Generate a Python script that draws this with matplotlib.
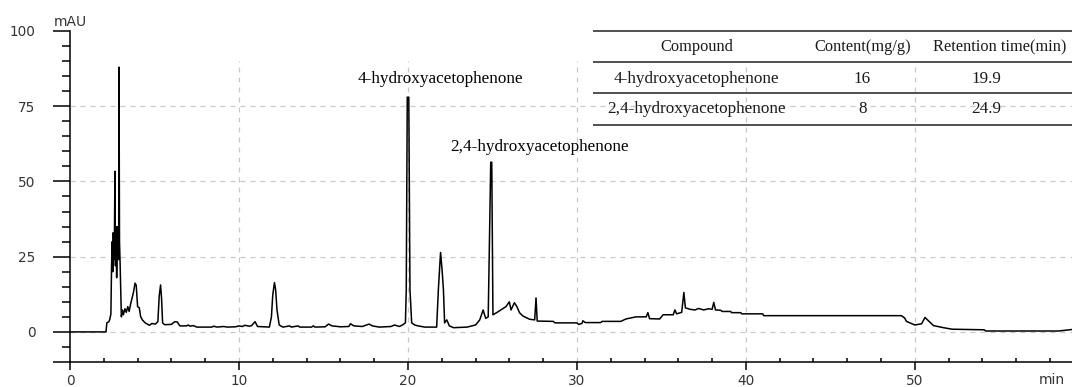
import matplotlib
matplotlib.use("Agg")
import matplotlib.pyplot as plt
from matplotlib.ticker import FixedLocator, MultipleLocator

# -----------------------------
# DATA
# -----------------------------
time_min = [
    0, 2.13, 2.18, 2.3, 2.36, 2.42, 2.46, 2.5, 2.53, 2.56, 2.6, 2.63, 2.66, 2.69,
    2.72, 2.76, 2.8, 2.84, 2.88, 2.9, 2.93, 2.96, 3.04, 3.1, 3.16, 3.25, 3.33,
    3.42, 3.5, 3.6, 3.75, 3.85, 3.92, 4.0, 4.1, 4.18, 4.28, 4.45, 4.7, 4.85,
    5.05, 5.2, 5.28, 5.36, 5.42, 5.48, 5.6, 6.0, 6.2, 6.35, 6.5, 6.9, 7.0, 7.1,
    7.3, 7.5, 8.4, 8.5, 8.7, 9.1, 9.3, 9.8, 10.0, 10.2, 10.35, 10.6, 10.75,
    10.95, 11.1, 11.8, 11.92, 12.0, 12.1, 12.17, 12.25, 12.38, 12.6, 13.0, 13.1,
    13.5, 13.6, 14.3, 14.4, 14.5, 15.1, 15.3, 15.5, 16.0, 16.5, 16.6, 16.8,
    17.3, 17.7, 17.9, 18.3, 19.0, 19.2, 19.5, 19.7, 19.85, 19.9, 19.96, 20.05,
    20.12, 20.22, 20.4, 20.6, 21.0, 21.7, 21.8, 21.93, 22.02, 22.1, 22.17, 22.3,
    22.45, 22.7, 23.5, 24.0, 24.25, 24.45, 24.6, 24.75, 24.82, 24.9, 24.96,
    25.03, 25.25, 25.5, 25.8, 26.0, 26.1, 26.3, 26.45, 26.6, 26.8, 27.2, 27.5,
    27.58, 27.65, 28.6, 28.7, 30.0, 30.1, 30.3, 30.35, 30.5, 31.4, 31.5, 32.6,
    32.9, 33.5, 34.1, 34.2, 34.3, 34.9, 35.1, 35.7, 35.8, 35.9, 36.2, 36.33,
    36.42, 36.7, 37.0, 37.2, 37.5, 37.8, 38.0, 38.1, 38.2, 38.5, 38.6, 39.1,
    39.15, 39.7, 39.75, 41.0, 41.05, 48.8, 49.2, 49.4, 49.5, 50.0, 50.4, 50.6,
    51.1, 51.7, 52.2, 54.1, 54.2, 58.5, 59.0, 59.3,
]
signal_mau = [
    0, 0, 3.0, 3.4, 4.3, 6.0, 22, 30, 20, 33, 24, 32, 53.4, 22,
    35, 18, 30, 35, 24, 88, 30, 24, 5, 7.3, 5.7, 7.7, 6.5,
    8.4, 6.8, 9.6, 13, 16.2, 15.5, 8.4, 8.0, 5.1, 4.0, 3.0, 2.2, 2.8,
    2.6, 3.4, 12, 15.6, 11, 3.0, 2.4, 2.5, 3.4, 3.3, 2.0, 2.0, 2.3, 1.9,
    2.1, 1.6, 1.6, 1.9, 1.6, 1.8, 1.6, 1.7, 2.0, 1.8, 2.2, 1.9, 2.1,
    3.4, 1.8, 1.6, 5, 12.3, 16.4, 14, 7.3, 2.3, 1.6, 2.0, 1.6,
    2.0, 1.6, 1.6, 2.0, 1.6, 1.7, 2.6, 2.0, 1.7, 1.8, 2.7, 2.0,
    1.8, 2.6, 2.0, 1.6, 1.8, 2.3, 1.8, 2.4, 3, 14, 78, 78,
    14, 3, 2.3, 2.0, 1.6, 1.6, 14, 26.4, 20.6, 14, 3, 4.0,
    2.0, 1.4, 1.6, 2.3, 4.0, 7.3, 4.5, 5, 28, 56.4, 56.4,
    5.7, 6.4, 7.3, 8.4, 10, 7.3, 9.7, 8.4, 6.4, 5.3, 4.2, 4.0,
    11.3, 3.6, 3.5, 3.0, 3.0, 2.5, 2.8, 3.7, 3.1, 3.1, 3.5, 3.5,
    4.3, 5.0, 5.0, 6.4, 4.4, 4.3, 5.7, 5.7, 7.3, 6.0, 6.5, 13.1,
    8, 7.5, 7.3, 7.8, 7.3, 7.7, 7.5, 9.8, 7.3, 7.2, 6.8, 6.8,
    6.4, 6.4, 6.0, 6.0, 5.4, 5.4, 5.4, 4.6, 3.5, 2.3, 2.7, 4.8,
    2.1, 1.4, 0.9, 0.7, 0.3, 0.3, 0.6, 0.8,
]

peak_names = ["4-hydroxyacetophenone", "2,4-hydroxyacetophenone"]

table_header = ["Compound", "Content(mg/g)", "Retention time(min)"]
table_compounds = ["4-hydroxyacetophenone", "2,4-hydroxyacetophenone"]
table_content = ["16", "8"]
table_rt = ["19.9", "24.9"]

SERIF = ["Liberation Serif", "DejaVu Serif"]


def main():
    fig = plt.figure(figsize=(10.72, 3.87), dpi=100)
    ax = fig.add_axes([0.0653, 0.0646, 0.9347, 0.8553])

    ax.set_xlim(0, 59.3)
    ax.set_ylim(-10, 100)

    # grid (dashed, vertical lines stop short of the top)
    grid_kw = dict(color="#c8c8c8", linestyle=(0, (4, 4)), linewidth=0.9, zorder=0)
    for y in [0, 25, 50, 75]:
        ax.axhline(y, **grid_kw)
    ax.vlines([10, 20, 30, 40, 50], -10, 90, **grid_kw)

    ax.plot(time_min, signal_mau, color="black", linewidth=1.1, zorder=3)

    # axes styling
    for s in ["top", "right"]:
        ax.spines[s].set_visible(False)
    for s in ["left", "bottom"]:
        ax.spines[s].set_linewidth(1.1)
        ax.spines[s].set_color("black")

    ax.yaxis.set_major_locator(FixedLocator([-10, 0, 25, 50, 75, 100]))
    ax.set_yticklabels(["", "0", "25", "50", "75", "100"])
    ax.yaxis.set_minor_locator(MultipleLocator(5))
    ax.tick_params(axis="y", which="major", direction="out", length=12, width=1.1,
                   pad=13, labelsize=9.8, labelcolor="#333333")
    ax.tick_params(axis="y", which="minor", direction="out", length=6, width=1.1)

    ax.xaxis.set_major_locator(MultipleLocator(10))
    ax.xaxis.set_minor_locator(MultipleLocator(2))
    ax.tick_params(axis="x", which="major", direction="out", length=6, width=1.1,
                   pad=3, labelsize=9.8, labelcolor="#333333")
    ax.tick_params(axis="x", which="minor", direction="in", length=3, width=1.1)

    ax.text(-0.95, 100.5, "mAU", fontsize=10, color="#333333", ha="left",
            va="bottom", clip_on=False)
    ax.text(58.9, -13.5, "min", fontsize=10, color="#333333", ha="right", va="top",
            clip_on=False)

    # peak labels
    ax.text(21.95, 84, peak_names[0], family=SERIF, fontsize=12.3, ha="center",
            va="center")
    ax.text(27.8, 61.3, peak_names[1], family=SERIF, fontsize=12.3, ha="center",
            va="center")

    # table drawn as plain text + rules
    x0, x1 = 30.95, 59.3
    col_x = [37.1, 46.9, 54.25]
    head_x = [37.1, 46.9, 55.05]
    rule_y = [100, 89.7, 79.3, 68.7]
    row_y = [94.7, 84, 74]
    ax.hlines(rule_y, x0, x1, color="#505050", linewidth=1.4, clip_on=False, zorder=2)
    for x, txt in zip(head_x, table_header):
        ax.text(x, row_y[0], txt, family=SERIF, fontsize=11.8, ha="center",
                va="center", color="#1a1a1a", clip_on=False)
    body = list(zip(table_compounds, table_content, table_rt))
    for y, row in zip(row_y[1:], body):
        for x, txt in zip(col_x, row):
            ax.text(x, y, txt, family=SERIF, fontsize=12.3, ha="center", va="center",
                    color="#1a1a1a", clip_on=False)

    fig.savefig("out.png", dpi=100)


if __name__ == "__main__":
    main()
